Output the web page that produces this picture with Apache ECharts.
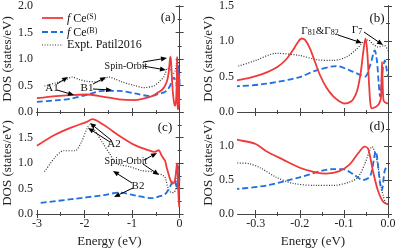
<!DOCTYPE html>
<html><head><meta charset="utf-8">
<script src="https://cdn.jsdelivr.net/npm/echarts@6/dist/echarts.min.js"></script>
<style>html,body{margin:0;padding:0;background:#fff}#c{width:399px;height:249px}</style>
</head><body><div id="c"></div>
<script>
// ---- data: top panels (a)/(b) ----
var topS_E = [-3,-2.6,-2.3,-1.96,-1.62,-1.28,-0.95,-0.61,-0.45,-0.38,-0.34,-0.31,-0.275,-0.25,-0.23,-0.215,-0.205,-0.196,-0.188,-0.177,-0.165,-0.154,-0.14,-0.124,-0.11,-0.1,-0.09,-0.08,-0.07,-0.062,-0.056,-0.051,-0.047,-0.043,-0.04,-0.037,-0.032,-0.026,-0.02,-0.016,-0.0145,-0.0135,-0.012,-0.01,-0.005,0];
var topS_V = [0.26,0.30,0.32,0.33,0.29,0.24,0.225,0.29,0.37,0.41,0.45,0.49,0.56,0.64,0.75,0.88,0.98,1.04,1.02,0.9,0.7,0.52,0.35,0.22,0.15,0.12,0.13,0.17,0.3,0.55,0.85,1.04,0.85,0.4,0.12,0.05,0.06,0.08,0.12,0.2,0.5,0.71,0.4,0.16,0.13,0.12];
var topB_E = [-3,-2.6,-2.3,-1.96,-1.62,-1.28,-0.95,-0.61,-0.45,-0.34,-0.275,-0.2,-0.162,-0.117,-0.087,-0.064,-0.052,-0.04,-0.03,-0.025,-0.021,-0.018,-0.012,-0.007,-0.003,0];
var topB_V = [0.19,0.22,0.25,0.32,0.40,0.40,0.35,0.30,0.34,0.365,0.40,0.495,0.59,0.65,0.59,0.53,0.50,0.67,0.87,0.72,0.4,0.22,0.6,0.73,0.6,0.5];
var topX_E = [-2.84,-2.6,-2.4,-2.26,-2.1,-1.96,-1.76,-1.6,-1.49,-1.35,-1.22,-0.95,-0.75,-0.55,-0.45,-0.40,-0.34,-0.3,-0.253,-0.2,-0.162,-0.124,-0.094,-0.071,-0.056,-0.045,-0.034,-0.023,-0.008,0];
var topX_V = [0.49,0.55,0.61,0.66,0.61,0.58,0.57,0.61,0.66,0.62,0.57,0.50,0.46,0.49,0.55,0.6,0.65,0.73,0.83,0.80,0.74,0.73,0.78,0.89,0.99,1.02,0.96,0.92,0.94,0.87];
// ---- data: bottom panels (c)/(d) ----
var botS_E = [-3,-2.61,-2.27,-1.94,-1.84,-1.6,-1.26,-0.92,-0.65,-0.52,-0.44,-0.38,-0.34,-0.3,-0.275,-0.238,-0.2,-0.162,-0.14,-0.11,-0.087,-0.068,-0.053,-0.045,-0.034,-0.023,-0.011,0];
var botS_V = [1.34,1.56,1.70,1.81,1.86,1.75,1.53,1.34,1.25,1.22,1.25,1.15,1.09,1.03,0.92,0.80,0.68,0.61,0.595,0.63,0.73,0.89,0.99,0.96,0.63,0.35,0.18,0.14];
var botB_E = [-2.92,-2.27,-1.6,-1.26,-0.92,-0.58,-0.41,-0.34,-0.275,-0.2,-0.124,-0.102,-0.08,-0.056,-0.04,-0.028,-0.018,-0.014,-0.007,0];
var botB_V = [0.22,0.29,0.37,0.42,0.36,0.31,0.35,0.37,0.42,0.54,0.66,0.66,0.59,0.50,0.56,0.92,0.45,0.35,0.65,0.70];
var botX_E = [-2.84,-2.61,-2.44,-2.2,-2.07,-1.94,-1.88,-1.8,-1.6,-1.47,-1.33,-1.06,-0.79,-0.58,-0.45,-0.38,-0.34,-0.314,-0.29,-0.253,-0.215,-0.162,-0.124,-0.087,-0.068,-0.053,-0.036,-0.025,-0.014,-0.003,0];
var botX_V = [0.83,1.12,1.24,1.24,1.40,1.69,1.75,1.66,1.37,1.18,0.99,0.93,0.85,0.83,0.79,0.77,0.75,0.74,0.68,0.54,0.45,0.42,0.42,0.47,0.54,0.73,0.99,0.78,0.35,0.15,0.15];
// ---- tick labels ----
var wideXTicks = [-3,-2,-1,0];
var wideXMinor = [-2.5,-1.5,-0.5];
var zoomXTicks = [-0.3,-0.2,-0.1,0];
var zoomXMinor = [-0.25,-0.15,-0.05];
var yTicks2 = [0,0.5,1,1.5,2];
var yMinor2 = [0.25,0.75,1.25,1.75];
var yTicks15 = [0,0.5,1,1.5];
var yMinor15 = [0.25,0.75,1.25];
var legendNames = ['{i|f} Ce{sup|(S)}','{i|f} Ce{sup|(B)}','Expt. Patil2016'];

function zip(a,b){return a.map(function(v,i){return [v,b[i]];});}
var SERIF = 'Liberation Serif';
var AX = '#444';
var xAxes=[], yAxes=[], grids=[];
function panel(g, xmin, xmax, xMaj, xMin, xLab, xName, ymin, ymax, yMaj, yMin, yLab){
  grids.push(g);
  var gi = grids.length-1;
  var base = {gridIndex:gi, type:'value', min:xmin, max:xmax, splitLine:{show:false},
    axisLine:{lineStyle:{color:AX,width:1}}};
  function mk(pos, vals, len, labVals, name){
    var o = Object.assign({}, base, {position:pos,
      axisTick:{show:true, inside:true, length:len, customValues:vals, lineStyle:{color:AX}},
      axisLabel:{show:!!labVals, customValues:labVals||vals, fontFamily:SERIF, fontSize:12, color:'#222', margin:4,
        formatter:function(v){return (xmax-xmin)>1 ? String(Math.round(v)) : v.toFixed(1);}}});
    if(name){o.name=name;o.nameLocation='middle';o.nameGap=21;o.nameTextStyle={fontFamily:SERIF,fontSize:13,color:'#222'};}
    return o;
  }
  var xi = xAxes.length;
  xAxes.push(mk('bottom', xMaj, 4, xLab?xMaj:null, xName));
  xAxes.push(mk('bottom', xMin, 2, null));
  xAxes.push(mk('top', xMaj, 4, null));
  xAxes.push(mk('top', xMin, 2, null));
  var ybase = {gridIndex:gi, type:'value', min:ymin, max:ymax, splitLine:{show:false},
    axisLine:{show:true, lineStyle:{color:AX,width:1}}};
  function mky(pos, vals, len, labVals, name){
    var o = Object.assign({}, ybase, {position:pos,
      axisTick:{show:true, inside:true, length:len, customValues:vals, lineStyle:{color:AX}},
      axisLabel:{show:!!labVals, customValues:labVals||vals, fontFamily:SERIF, fontSize:12, color:'#222', margin:4,
        formatter:function(v){return v.toFixed(1);}}});
    if(name){o.name=name.t;o.nameLocation='middle';o.nameGap=name.gap;o.nameTextStyle={fontFamily:SERIF,fontSize:13,color:'#222'};}
    return o;
  }
  var yi = yAxes.length;
  yAxes.push(mky('left', yMaj, 4, yLab, {t:'DOS (states/eV)', gap:g.left>100?20:21}));
  yAxes.push(mky('left', yMin, 2, null));
  yAxes.push(mky('right', yMaj, 4, null));
  yAxes.push(mky('right', yMin, 2, null));
  return {x:xi, y:yi};
}
var pa = panel({left:32, top:5, width:150, height:107}, -3, 0.05, wideXTicks, wideXMinor, false, null, 0, 2, yTicks2, yMinor2, yTicks2);
var pc = panel({left:32, top:112, width:150, height:106}, -3, 0.05, wideXTicks, wideXMinor, true, 'Energy (eV)', 0, 2, yTicks2, yMinor2, [0,0.5,1,1.5]);
var pb = panel({left:238, top:5, width:150, height:107}, -0.34, 0, zoomXTicks, zoomXMinor, false, null, 0, 1.5, yTicks15, yMinor15, yTicks15);
var pd = panel({left:238, top:112, width:150, height:106}, -0.34, 0, zoomXTicks, zoomXMinor, true, 'Energy (eV)', 0, 1.5, yTicks15, yMinor15, [0,0.5,1]);

var RED='#f03a3a', BLUE='#1f6fe0', BLK='#333';
var STY = {S:{color:RED,width:1.8,type:'solid'}, B:{color:BLUE,width:1.8,type:[6,3]}, E:{color:BLK,width:1.2,type:[1,1.6]}};
function ser(name, p, data, kind){
  var ls = STY[kind];
  return {name:name, type:'line', xAxisIndex:p.x, yAxisIndex:p.y, data:data, symbol:'none', smooth:0.3,
    lineStyle:ls, itemStyle:{color:ls.color}, clip:true, silent:true, z: kind==='S'?4:3};
}
var series = [];
[pa,pb].forEach(function(p){
  series.push(ser('E', p, zip(topX_E, topX_V), 'E'));
  series.push(ser('B', p, zip(topB_E, topB_V), 'B'));
  series.push(ser('S', p, zip(topS_E, topS_V), 'S'));
});
[pc,pd].forEach(function(p){
  series.push(ser('E2', p, zip(botX_E, botX_V), 'E'));
  series.push(ser('B2', p, zip(botB_E, botB_V), 'B'));
  series.push(ser('S2', p, zip(botS_E, botS_V), 'S'));
});

function arrow(x1,y1,x2,y2){
  var dx=x2-x1, dy=y2-y1, L=Math.sqrt(dx*dx+dy*dy), ux=dx/L, uy=dy/L;
  var hl=6, hw=2.5;
  var bx=x2-ux*hl, by=y2-uy*hl;
  return [
    {type:'line', shape:{x1:x1,y1:y1,x2:bx,y2:by}, style:{stroke:'#000',lineWidth:1}, z:10},
    {type:'polygon', shape:{points:[[x2,y2],[bx-uy*hw,by+ux*hw],[bx+uy*hw,by-ux*hw]]}, style:{fill:'#000'}, z:10}
  ];
}
function txt(x,y,t,fs,rich,align){
  return {type:'text', x:x, y:y, z:11, style:{text:t, font:fs+'px "'+SERIF+'"', fill:'#111', align:align||'center', verticalAlign:'middle', rich:rich}};
}
var subRich = {s:{fontSize:8, fontFamily:SERIF, verticalAlign:'bottom', padding:[4,0,0,0]}};
var legRich = {i:{fontStyle:'italic',fontFamily:SERIF,fontSize:12}, sup:{fontSize:8,fontFamily:SERIF,verticalAlign:'top',padding:[0,0,5,0]}};
var legend = [];
['S','B','E'].forEach(function(k,i){
  var y = [18,32,45][i], ls = STY[k];
  legend.push({type:'line', shape:{x1:42,y1:y,x2:63,y2:y}, style:{stroke:ls.color, lineWidth:ls.width, lineDash: ls.type==='solid'?null:ls.type}, z:11});
  legend.push(txt(67,y+(i<2?1:0),legendNames[i],12,legRich,'left'));
});
var gfx = [].concat(legend,
  txt(168,18,'(a)',13), txt(377,19,'(b)',13), txt(165,128,'(c)',13), txt(377,127,'(d)',13),
  txt(52,88,'A1',11), arrow(57,84,68,77), arrow(57,90,74,95),
  txt(87,88,'B1',11), arrow(93,84,106,77), arrow(93,89,112,90),
  txt(126,66,'Spin-Orbit',10), arrow(143,62,167,58), arrow(143,66,166,70),
  txt(114,144,'A2',11), arrow(111,140,90,123), arrow(110,142,88,128),
  txt(126,161,'Spin-Orbit',10), arrow(144,160,157,153), arrow(143,164,159,175),
  txt(138,186,'B2',11), arrow(132,183,113,171), arrow(133,188,114,197),
  {type:'text', x:320, y:31, z:11, style:{text:'Γ{s|81}&Γ{s|82}', font:'11px "'+SERIF+'"', fill:'#111', align:'center', verticalAlign:'middle', rich:subRich}},
  arrow(338,35,362,43),
  txt(357,30,'Γ{s|7}',11,subRich), arrow(364,32,383,45)
);

var chart = echarts.init(document.getElementById('c'), null, {renderer:'canvas'});
chart.setOption({
  animation:false,
  backgroundColor:'#fff',
  grid:grids,
  xAxis:xAxes,
  yAxis:yAxes,
  series:series,
  graphic:gfx
});
</script></body></html>
